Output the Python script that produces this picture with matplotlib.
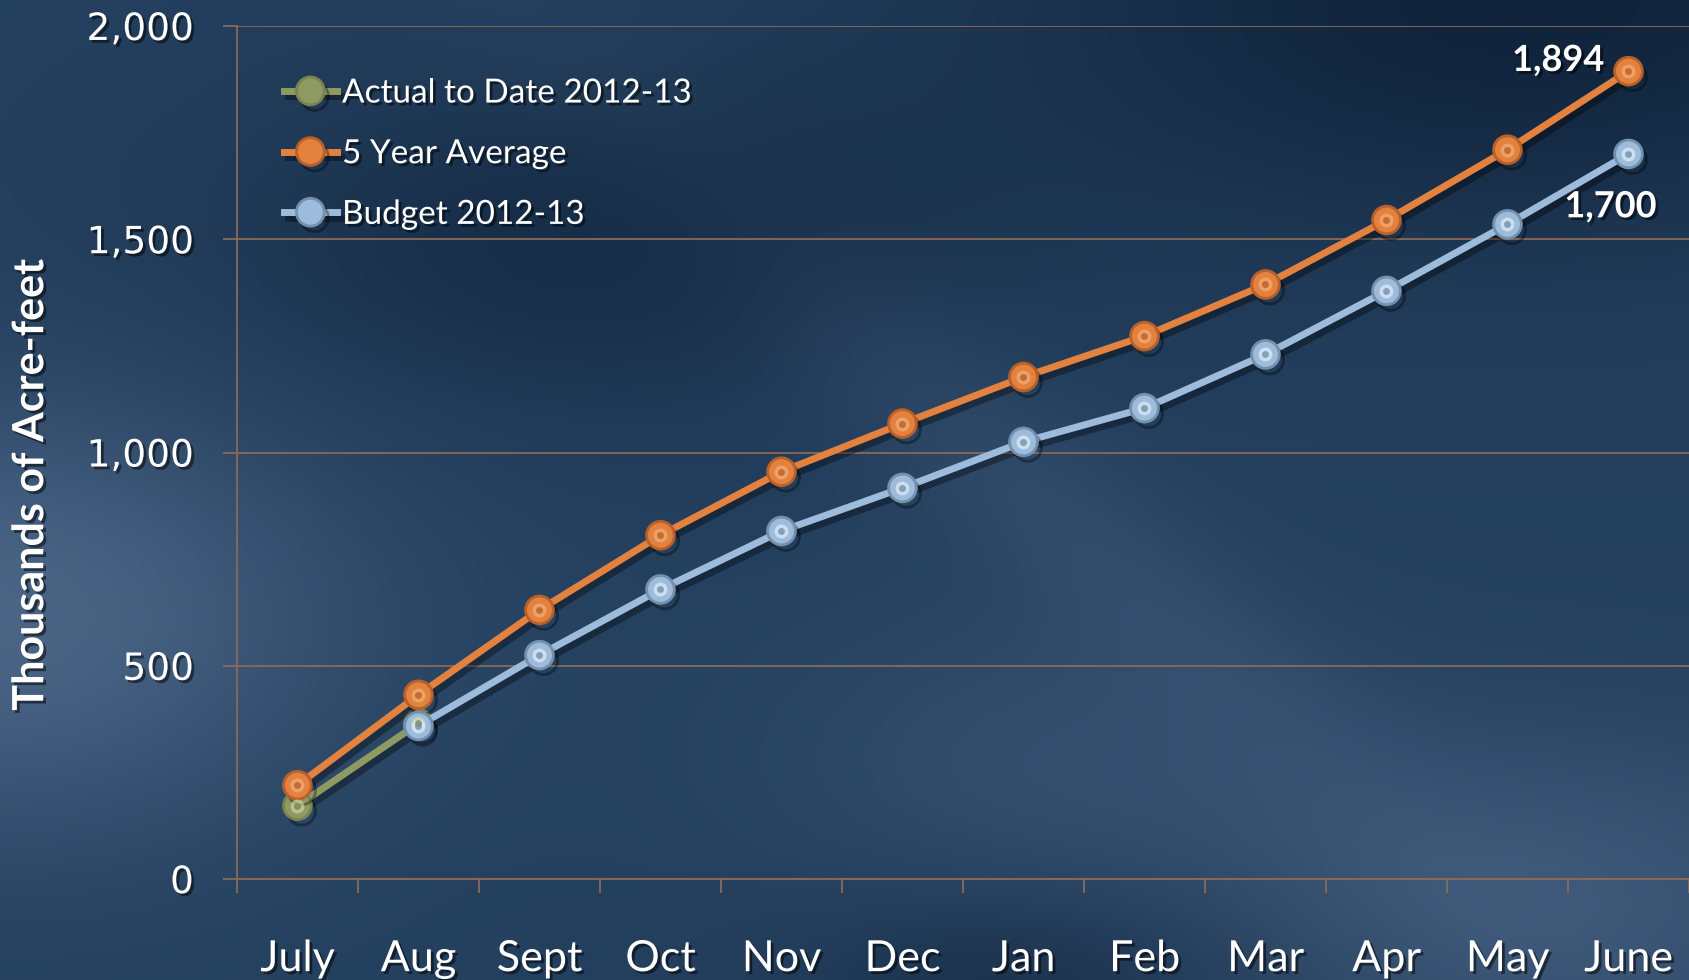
import matplotlib.pyplot as plt
import matplotlib.patheffects as pe
import numpy as np

plt.rcParams['font.family'] = ['Lato', 'DejaVu Sans']

# Data (thousands of acre-feet)
months = ['July', 'Aug', 'Sept', 'Oct', 'Nov', 'Dec', 'Jan', 'Feb', 'Mar', 'Apr', 'May', 'June']
actual_2012_13 = [172, 365, np.nan, np.nan, np.nan, np.nan, np.nan, np.nan, np.nan, np.nan, np.nan, np.nan]
five_year_avg = [220, 432, 631, 806, 955, 1068, 1177, 1273, 1394, 1545, 1710, 1894]
budget_2012_13 = [np.nan, 359, 525, 679, 816, 917, 1025, 1104, 1230, 1379, 1535, 1700]

series = [
    ('Actual to Date 2012-13', actual_2012_13, '#8f9a62', '#7a8450', '#d6dcb0'),
    ('5 Year Average', five_year_avg, '#e3813f', '#b8602a', '#f7b782'),
    ('Budget 2012-13', budget_2012_13, '#9dbcdb', '#7390ad', '#eef5fc'),
]

fig = plt.figure(figsize=(16.89, 9.8), dpi=100)

# background: dark blue with soft lighter areas
bg = fig.add_axes([0, 0, 1, 1], zorder=-10)
yy, xx = np.mgrid[0:1:400j, 0:1:700j]
base = np.array([0.14, 0.25, 0.37])
light = np.array([0.32, 0.42, 0.55])
dark = np.array([0.05, 0.12, 0.21])
w_light = (0.85 * np.exp(-((xx - 0.0) ** 2 / 0.04 + (yy - 0.63) ** 2 / 0.05))
           + 0.55 * np.exp(-((xx - 0.92) ** 2 / 0.04 + (yy - 0.92) ** 2 / 0.03))
           + 0.25 * np.exp(-(((xx - 0.55) - 0.6 * (yy - 0.4)) ** 2 / 0.006) - (yy - 0.45) ** 2 / 0.15)
           + 0.3 * np.exp(-((xx - 0.62) ** 2 / 0.03 + (yy - 0.78) ** 2 / 0.03)))
w_dark = 0.85 * np.exp(-((xx - 0.9) ** 2 / 0.1 + (yy - 0.0) ** 2 / 0.06)) \
    + 0.55 * np.exp(-((xx - 0.35) ** 2 / 0.05 + (yy - 0.25) ** 2 / 0.03)) \
    + 0.4 * np.exp(-((xx - 0.6) ** 2 / 0.02 + (yy - 1.0) ** 2 / 0.01))
w_light = np.clip(w_light, 0, 1)[..., None]
w_dark = np.clip(w_dark, 0, 1)[..., None]
img = base * (1 - w_light) + light * w_light
img = img * (1 - w_dark) + dark * w_dark
bg.imshow(img, aspect='auto', extent=[0, 1, 0, 1], origin='upper')
bg.axis('off')

ax = fig.add_axes([0.1403, 0.103, 0.8597, 0.8705])
ax.set_facecolor('none')

grid_color = '#8a6a58'
x = np.arange(len(months))
shadow = [pe.SimpleLineShadow(offset=(3, -4), shadow_color='black', alpha=0.35), pe.Normal()]
handles = []
for label, vals, color, rim, hi in series:
    ln, = ax.plot(x, vals, color=color, lw=5, marker='o', markersize=20,
                  markerfacecolor=color, markeredgecolor=rim, markeredgewidth=2,
                  label=label, path_effects=shadow, zorder=3)
    ax.plot(x, vals, ls='none', marker='o', markersize=10, markerfacecolor=hi,
            markeredgecolor='none', alpha=0.6, zorder=4)
    ax.plot(x, vals, ls='none', marker='o', markersize=5, markerfacecolor=rim,
            markeredgecolor='none', alpha=0.8, zorder=5)
    handles.append(ln)

ax.set_xlim(-0.5, len(months) - 0.5)
ax.set_ylim(0, 2000)
ax.set_yticks([0, 500, 1000, 1500, 2000])
ax.set_yticklabels(['0', '500', '1,000', '1,500', '2,000'], family='DejaVu Sans')
ax.yaxis.grid(True, color=grid_color, lw=1.3)
ax.set_axisbelow(True)

ax.set_xticks(np.arange(len(months) + 1) - 0.5)
ax.set_xticklabels([])
ax.set_xticks(x, minor=True)
ax.set_xticklabels(months, minor=True)
ax.tick_params(axis='x', which='major', length=10, width=1.3, color=grid_color, direction='out')
ax.tick_params(axis='x', which='minor', length=0, pad=44, labelsize=31, labelcolor='white')
ax.tick_params(axis='y', length=10, width=1.3, color=grid_color, pad=21, labelsize=27,
               labelcolor='white')

for s in ['top', 'right']:
    ax.spines[s].set_visible(False)
for s in ['left', 'bottom']:
    ax.spines[s].set_color(grid_color)
    ax.spines[s].set_linewidth(1.3)

txt_shadow = [pe.withSimplePatchShadow(offset=(2, -2), shadow_rgbFace='black', alpha=0.5)]
for lbl in ax.get_xticklabels(minor=True) + ax.get_yticklabels():
    lbl.set_path_effects(txt_shadow)

ax.set_ylabel('Thousands of Acre-feet', fontsize=31, fontweight='bold', color='white',
              path_effects=txt_shadow)
ax.yaxis.set_label_coords(-0.1286, 0.462)

ax.text(x[-1] - 0.2, five_year_avg[-1] + 25, f'{five_year_avg[-1]:,}', ha='right', va='center',
        fontsize=26, fontweight='bold', color='white', path_effects=txt_shadow)
ax.text(x[-1] - 0.15, budget_2012_13[-1] - 124, f'{budget_2012_13[-1]:,}', ha='center', va='center',
        fontsize=26, fontweight='bold', color='white', path_effects=txt_shadow)

leg = ax.legend(handles=handles, loc='upper left', bbox_to_anchor=(0.023, 0.954), frameon=False,
                fontsize=24, labelcolor='white', handlelength=1.6, handletextpad=0.15,
                labelspacing=0.92, borderaxespad=0)
for t in leg.get_texts():
    t.set_path_effects(txt_shadow)

fig.savefig('out.png', dpi=100)
